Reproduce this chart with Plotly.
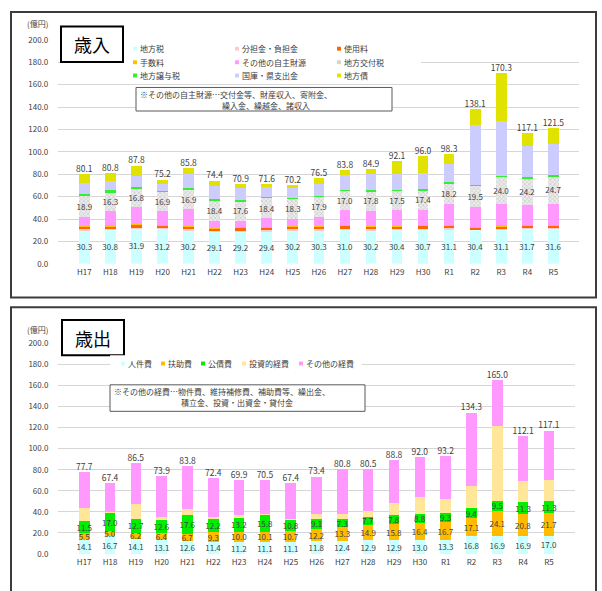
import plotly.graph_objects as go

W, H = 602, 591

years = ["H17", "H18", "H19", "H20", "H21", "H22", "H23", "H24", "H25", "H26",
         "H27", "H28", "H29", "H30", "R1", "R2", "R3", "R4", "R5"]

# 歳入（億円）
chihouzei = [30.3, 30.8, 31.9, 31.2, 30.2, 29.1, 29.2, 29.4, 30.2, 30.3,
             31.0, 30.2, 30.4, 30.7, 31.1, 30.4, 31.1, 31.7, 31.6]
buntankin = [0.5, 0.5, 0.5, 0.5, 0.5, 0.5, 0.5, 0.5, 0.5, 0.5,
             0.5, 0.5, 0.5, 0.5, 0.5, 0.3, 0.4, 0.4, 0.4]
shiyoryo = [2.4, 2.4, 2.5, 2.4, 2.6, 2.3, 2.6, 2.6, 2.6, 2.5,
            2.5, 2.6, 2.5, 2.9, 2.6, 1.7, 2.3, 2.1, 2.2]
tesuryo = [0.6, 0.6, 0.7, 0.6, 0.7, 0.5, 0.7, 0.7, 0.7, 0.7,
           0.7, 0.7, 0.7, 0.8, 0.7, 0.5, 0.6, 0.5, 0.5]
sonota_jishu = [8.0, 13.0, 15.3, 12.7, 15.3, 6.1, 5.5, 7.4, 6.0, 8.0,
                13.6, 13.2, 13.7, 13.6, 18.9, 17.4, 19.4, 17.4, 19.1]
kofuzei = [18.9, 16.3, 16.8, 16.9, 16.9, 18.4, 17.6, 18.4, 18.3, 17.9,
           17.0, 17.8, 17.5, 17.4, 18.2, 19.5, 24.0, 24.2, 24.7]
joyozei = [1.7, 2.5, 0.9, 0.8, 1.1, 0.8, 1.0, 0.9, 0.8, 0.9,
           0.9, 0.9, 0.9, 0.9, 0.9, 0.9, 1.0, 1.0, 1.2]
kokko = [9.5, 8.0, 10.2, 6.4, 12.6, 11.4, 10.8, 8.3, 9.4, 10.5,
         12.9, 14.1, 13.8, 14.4, 16.6, 53.0, 49.0, 27.9, 26.9]
chihousai = [8.2, 6.7, 9.0, 3.7, 5.9, 5.3, 3.0, 3.4, 1.7, 5.2,
             4.7, 4.9, 12.1, 14.8, 8.8, 14.4, 42.5, 11.9, 14.9]

# 歳出（億円）
jinkenhi = [14.1, 16.7, 14.1, 13.1, 12.6, 11.4, 11.2, 11.1, 11.1, 11.8,
            12.4, 12.9, 12.9, 13.0, 13.3, 16.8, 16.9, 16.9, 17.0]
fujohi = [5.5, 5.0, 6.2, 6.4, 6.7, 9.3, 10.0, 10.1, 10.7, 12.2,
          13.3, 14.9, 15.8, 16.4, 16.7, 17.1, 24.1, 20.8, 21.7]
kosaihi = [11.5, 17.0, 12.7, 12.6, 17.6, 12.2, 13.2, 15.8, 10.8, 9.1,
           7.3, 7.7, 7.8, 8.8, 9.3, 9.4, 9.5, 11.3, 11.3]
toshi = [12.4, 1.4, 14.2, 3.0, 6.0, 1.9, 2.2, 0.8, 0.6, 4.8,
         4.9, 4.9, 11.6, 15.5, 12.9, 21.3, 70.7, 20.6, 20.5]
sonota_keihi = [34.2, 27.3, 39.3, 38.8, 40.9, 37.6, 33.3, 32.7, 34.2, 35.5,
                42.9, 40.1, 40.7, 38.3, 41.0, 69.7, 43.8, 42.5, 46.6]

FONT = "Noto Sans CJK JP"
TXT = "#404040"


def px(x):
    return x / W


def py(y):
    return 1 - y / H


revenue = [
    ("地方税", chihouzei, "#ccffff", True),
    ("分担金・負担金", buntankin, "#ffcccc", False),
    ("使用料", shiyoryo, "#ff6600", False),
    ("手数料", tesuryo, "#ffc000", False),
    ("その他の自主財源", sonota_jishu, "#ff99ff", False),
    ("地方交付税", kofuzei, "#e4e4e4", True),
    ("地方譲与税", joyozei, "#33ee33", False),
    ("国庫・県支出金", kokko, "#ccccff", False),
    ("地方債", chihousai, "#e2e200", False),
]
expenditure = [
    ("人件費", jinkenhi, "#ccffff", True),
    ("扶助費", fujohi, "#ffbb00", True),
    ("公債費", kosaihi, "#00ee00", True),
    ("投資的経費", toshi, "#ffe699", False),
    ("その他の経費", sonota_keihi, "#ff99ff", False),
]

fig = go.Figure()


def add_stack(series, xa, ya):
    totals = [0.0] * len(years)
    for name, vals, color, labelled in series:
        marker = dict(color=color, line=dict(width=0))
        if name == "地方交付税":
            marker["pattern"] = dict(shape="x", fgcolor="#b0b0b0", bgcolor="#ececec",
                                     size=3, solidity=0.45)
        fig.add_trace(go.Bar(
            x=years, y=vals, name=name, marker=marker, xaxis=xa, yaxis=ya,
            text=[f"{v:.1f}" for v in vals] if labelled else None,
            textposition="inside" if labelled else "none",
            insidetextanchor="middle", textangle=0, constraintext="none",
            insidetextfont=dict(family=FONT, size=8, color=TXT),
            showlegend=False, hoverinfo="x+y+name",
        ))
        totals = [t + v for t, v in zip(totals, vals)]
    fig.add_trace(go.Scatter(
        x=years, y=totals, mode="text", xaxis=xa, yaxis=ya,
        text=[f"{round(t, 1):.1f}" for t in totals], textposition="top center",
        textfont=dict(family=FONT, size=8.5, color=TXT), showlegend=False,
        hoverinfo="skip",
    ))


add_stack(revenue, "x", "y")
add_stack(expenditure, "x2", "y2")

axis_font = dict(family=FONT, size=8, color=TXT)
yaxis_common = dict(range=[0, 200], dtick=20, tickformat=".1f", showgrid=True,
                    gridcolor="#d6d6d6", gridwidth=1.3, zeroline=False, showline=False,
                    ticks="", ticklabelstandoff=9, tickfont=axis_font, fixedrange=True)
xaxis_common = dict(showgrid=False, showline=False, zeroline=False, ticks="",
                    tickfont=axis_font, ticklabelstandoff=2, fixedrange=True)

fig.update_layout(
    width=W, height=H, margin=dict(l=0, r=0, t=0, b=0),
    paper_bgcolor="white", plot_bgcolor="white",
    barmode="stack", bargap=0.59, showlegend=False,
    font=dict(family=FONT, size=8, color=TXT),
    xaxis=dict(domain=[0.0968, 0.9625], anchor="y", **xaxis_common),
    yaxis=dict(domain=[0.5555, 0.9416], anchor="x", **yaxis_common),
    xaxis2=dict(domain=[0.0970, 0.9547], anchor="y2", **xaxis_common),
    yaxis2=dict(domain=[0.0553, 0.4184], anchor="x2", **yaxis_common),
)

shapes = []
annotations = []


def rect(x0, y0, x1, y1, fill="white", line_color=None, line_width=0):
    shapes.append(dict(type="rect", xref="paper", yref="paper",
                       x0=px(x0), x1=px(x1), y0=py(y1), y1=py(y0),
                       fillcolor=fill, layer="above",
                       line=dict(color=line_color or fill, width=line_width)))


def text(x, y, s, size=8, anchor="left", color=TXT):
    annotations.append(dict(xref="paper", yref="paper", x=px(x), y=py(y), text=s,
                            showarrow=False, xanchor=anchor, yanchor="middle",
                            font=dict(family=FONT, size=size, color=color)))


# panel frames
rect(11, 6, 596, 297, fill="rgba(0,0,0,0)", line_color="#3c3c3c", line_width=2)
rect(11, 307, 596, 605, fill="rgba(0,0,0,0)", line_color="#3c3c3c", line_width=2)

# unit labels
text(37, 18, "(億円)", anchor="center")
text(37, 330, "(億円)", anchor="center")

# panel titles
rect(61, 21, 123, 57, fill="white", line_color="#000000", line_width=2)
text(92, 39, "歳入", size=18, anchor="center", color="#000000")
rect(62, 320, 124, 356, fill="white", line_color="#000000", line_width=2)
text(93, 338, "歳出", size=18, anchor="center", color="#000000")

# revenue legend: three columns
rect(124, 37, 421, 78)
col_x = [135, 237, 339]
row_y = [43.5, 57.3, 70.8]
for i, (name, _, color, _) in enumerate(revenue):
    col = i % 3
    row = i // 3
    cx, cy = col_x[col], row_y[row]
    mk = "#d4d4d4" if name == "地方交付税" else color
    rect(cx - 2, cy - 2, cx + 2, cy + 2, fill=mk)
    text(cx + 3, cy, name)

# expenditure legend: one row
rect(110, 356, 362, 373)
leg_x = [123, 163, 203, 244, 301]
for (name, _, color, _), cx in zip(expenditure, leg_x):
    rect(cx - 2, 362.3, cx + 2, 366.3, fill=color)
    text(cx + 3, 364.3, name)

# notes
rect(136, 83, 392, 107, fill="white", line_color="#595959", line_width=1)
text(138, 90, "※その他の自主財源…交付金等、財産収入、寄附金、")
text(220, 101, "繰入金、繰越金、諸収入")
rect(110, 386, 365, 413, fill="white", line_color="#595959", line_width=1)
text(112, 393, "※その他の経費…物件費、維持補修費、補助費等、繰出金、")
text(179, 404, "積立金、投資・出資金・貸付金")

fig.update_layout(shapes=shapes, annotations=annotations)
fig.write_html("out.html")
